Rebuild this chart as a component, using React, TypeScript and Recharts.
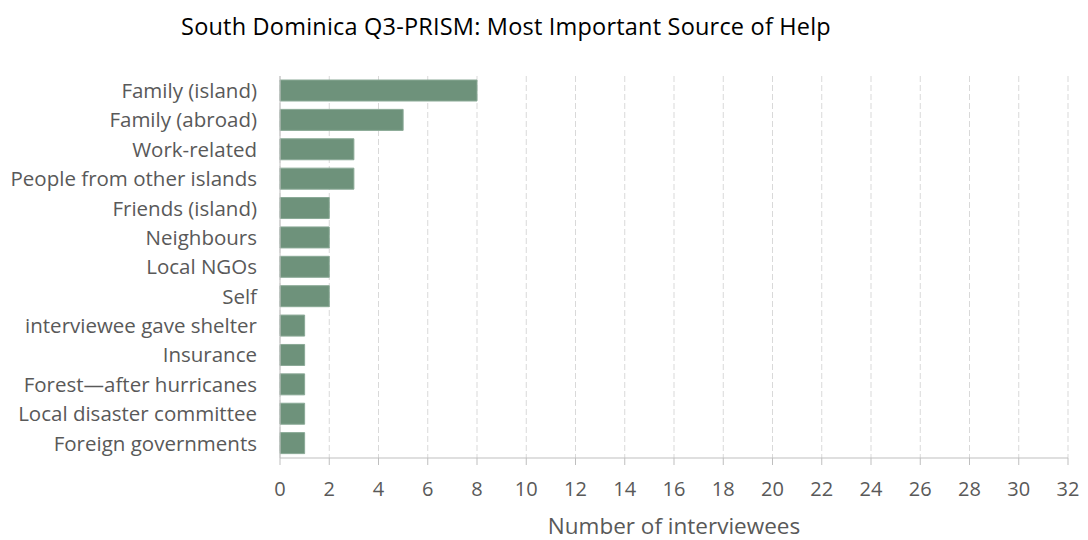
import React from "react";
import { BarChart, Bar, XAxis, YAxis, CartesianGrid } from "recharts";

const categories = [
  "Family (island)",
  "Family (abroad)",
  "Work-related",
  "People from other islands",
  "Friends (island)",
  "Neighbours",
  "Local NGOs",
  "Self",
  "interviewee gave shelter",
  "Insurance",
  "Forest\u2014after hurricanes",
  "Local disaster committee",
  "Foreign governments",
];
const counts = [8, 5, 3, 3, 2, 2, 2, 2, 1, 1, 1, 1, 1];
const xTicks = [0, 2, 4, 6, 8, 10, 12, 14, 16, 18, 20, 22, 24, 26, 28, 30, 32];

const data = categories.map((name, i) => ({ name, value: counts[i] }));

const FONT = "'Open Sans', Lato, sans-serif";

export default function App() {
  return (
    <div style={{ position: "relative", width: 1080, height: 532, fontFamily: FONT }}>
      <div
        style={{
          position: "absolute",
          left: 0,
          width: 996,
          top: 2,
          textAlign: "center",
          fontSize: 23.5,
          color: "#000",
          fontFamily: FONT,
          letterSpacing: 0.2,
        }}
      >
        South Dominica Q3-PRISM: Most Important Source of Help
      </div>
      <BarChart
        width={1080}
        height={532}
        data={data}
        layout="vertical"
        margin={{ top: 68, right: 20, bottom: 0, left: 0 }}
      >
        <CartesianGrid
          horizontal={false}
          vertical={true}
          stroke="#d9d9d9"
          strokeDasharray="6 3"
        />
        <XAxis
          type="number"
          domain={[0, 32]}
          ticks={xTicks}
          interval={0}
          height={82}
          stroke="#bfbfbf"
          tickSize={7}
          tickMargin={17}
          tick={{ fill: "#595959", fontSize: 20, fontFamily: FONT }}
          label={{
            value: "Number of interviewees",
            position: "insideBottom",
            offset: 6,
            fill: "#595959",
            fontSize: 22.5,
            fontFamily: FONT,
          }}
        />
        <YAxis
          type="category"
          dataKey="name"
          width={272}
          stroke="#bfbfbf"
          tickLine={false}
          tickSize={5}
          tickMargin={18}
          interval={0}
          tick={{ fill: "#595959", fontSize: 20.5, fontFamily: FONT }}
        />
        <Bar
          dataKey="value"
          fill="#6e927b"
          stroke="#8aa996"
          strokeWidth={1}
          barSize={21}
          isAnimationActive={false}
        />
      </BarChart>
    </div>
  );
}
